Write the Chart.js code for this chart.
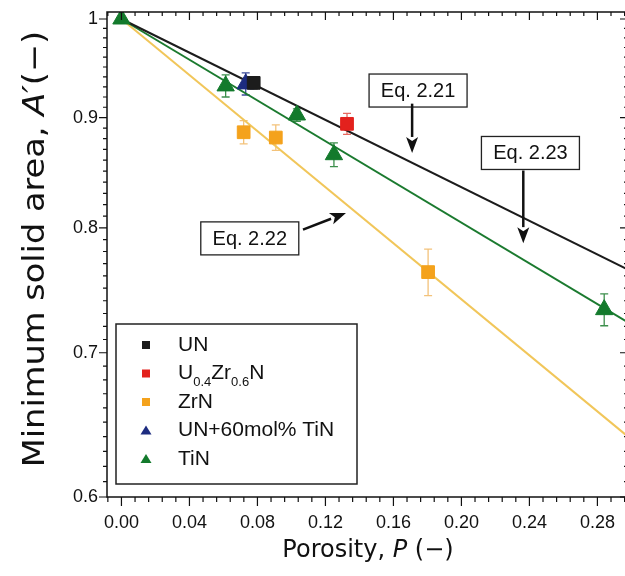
<!DOCTYPE html>
<html>
<head>
<meta charset="utf-8">
<script src="https://cdn.jsdelivr.net/npm/chart.js@4"></script>
<style>
  html, body { margin: 0; padding: 0; background: #fff; overflow: hidden; }
  #wrap { width: 640px; height: 576px; }
</style>
</head>
<body>
<div id="wrap"><canvas id="chart" width="640" height="576"></canvas></div>
<script>
// measured points (porosity P, minimum solid area A', +/- error)
const unP = [0.0778];
const unA = [0.934];
const unErr = [0.006];

const uzrP = [0.1327];
const uzrA = [0.894];
const uzrErr = [0.010];

const zrnP = [0.0719, 0.0908, 0.1804];
const zrnA = [0.886, 0.881, 0.763];
const zrnErr = [0.011, 0.012, 0.019];

const untinP = [0.0731];
const untinA = [0.933];
const untinErr = [0.011];

const tinP = [0.0, 0.0613, 0.1032, 0.125, 0.284];
const tinA = [1.0, 0.931, 0.9025, 0.865, 0.733];
const tinErr = [0, 0.011, 0.006, 0.011, 0.0125];

// model curves, end points
const eqP = [0.0, 0.298];
const eq221A = [1.0, 0.765];
const eq222A = [1.0, 0.640];
const eq223A = [1.0, 0.723];

// axes
const X_MIN = -0.0085, X_MAX = 0.298;
const Y_MIN = 0.6, Y_MAX = 1.0075;
const xTicks = [0.00, 0.04, 0.08, 0.12, 0.16, 0.20, 0.24, 0.28];
const yTicks = [0.6, 0.7, 0.8, 0.9, 1.0];
const yTickLabels = ["0.6", "0.7", "0.8", "0.9", "1"];

// annotation boxes: box centre and arrow in data units
const notes = [
  { text: "Eq. 2.21", bx: 0.1745, by: 0.9264, from: [0.171, 0.9135], to: [0.171, 0.8666] },
  { text: "Eq. 2.23", bx: 0.2406, by: 0.8666, from: [0.2364, 0.8505], to: [0.2364, 0.787] },
  { text: "Eq. 2.22", bx: 0.0755, by: 0.791, from: [0.1068, 0.7985], to: [0.1321, 0.8128] }
];

const C_BLACK = "#1c1c1c", C_RED = "#e3211d", C_ORANGE = "#f4a21c",
      C_NAVY = "#1d2c80", C_GREEN = "#137a2c", C_YELLOW = "#f1c65a";

const pts = (xs, ys) => xs.map((x, i) => ({ x, y: ys[i] }));

function marker(label, xs, ys, errs, color, style, r, errColor) {
  return {
    label, data: pts(xs, ys), errs, errColor,
    showLine: false, pointStyle: style, pointRadius: r, pointHoverRadius: r,
    backgroundColor: color, borderColor: color, borderWidth: 1
  };
}
function curve(label, ys, color) {
  return {
    label, data: pts(eqP, ys), showLine: true, pointRadius: 0,
    borderColor: color, borderWidth: 2, backgroundColor: color
  };
}

const datasets = [
  marker("UN", unP, unA, unErr, C_BLACK, "rect", 9, "#444"),
  marker("U0.4Zr0.6N", uzrP, uzrA, uzrErr, C_RED, "rect", 9, "#e76a60"),
  marker("ZrN", zrnP, zrnA, zrnErr, C_ORANGE, "rect", 9, "#f3c27a"),
  marker("UN+60mol% TiN", untinP, untinA, untinErr, C_NAVY, "triangle", 10, "#3a4a98"),
  marker("TiN", tinP, tinA, tinErr, C_GREEN, "triangle", 10, "#3d8f4c"),
  curve("Eq. 2.21", eq221A, C_BLACK),
  curve("Eq. 2.23", eq223A, "#1b7a2f"),
  curve("Eq. 2.22", eq222A, C_YELLOW)
];

const legendRows = [
  { parts: [["UN", 0]], color: C_BLACK, style: "rect" },
  { parts: [["U", 0], ["0.4", 1], ["Zr", 0], ["0.6", 1], ["N", 0]], color: C_RED, style: "rect" },
  { parts: [["ZrN", 0]], color: C_ORANGE, style: "rect" },
  { parts: [["UN+60mol% TiN", 0]], color: C_NAVY, style: "triangle" },
  { parts: [["TiN", 0]], color: C_GREEN, style: "triangle" }
];

const FONT = '"Liberation Sans", Arial, sans-serif';
const TFONT = '"DejaVu Sans", sans-serif';

const errorBars = {
  id: "errorBars",
  beforeDatasetsDraw(chart) {
    const { ctx } = chart;
    const ys = chart.scales.y;
    chart.data.datasets.forEach((ds, i) => {
      if (!ds.errs) return;
      const meta = chart.getDatasetMeta(i);
      ctx.save();
      ctx.strokeStyle = ds.errColor;
      ctx.lineWidth = 1.3;
      meta.data.forEach((el, j) => {
        const e = ds.errs[j];
        if (!e) return;
        const v = ds.data[j].y;
        const top = ys.getPixelForValue(v + e);
        const bot = ys.getPixelForValue(v - e);
        ctx.beginPath();
        ctx.moveTo(el.x, top); ctx.lineTo(el.x, bot);
        ctx.moveTo(el.x - 4, top); ctx.lineTo(el.x + 4, top);
        ctx.moveTo(el.x - 4, bot); ctx.lineTo(el.x + 4, bot);
        ctx.stroke();
      });
      ctx.restore();
    });
  }
};

function drawFrame(chart) {
  const { ctx, chartArea: a } = chart;
  const xs = chart.scales.x, ys = chart.scales.y;
  ctx.save();
  ctx.strokeStyle = "#111";
  ctx.lineWidth = 1.5;
  ctx.strokeRect(a.left, a.top, a.right - a.left, a.bottom - a.top);
  ctx.lineWidth = 1.2;
  ctx.beginPath();
  // x ticks: outward at bottom, inward at top
  for (let k = -1; k <= 37; k++) {
    const v = k * 0.008;
    if (v < X_MIN || v > X_MAX) continue;
    const px = xs.getPixelForValue(v);
    const major = k % 5 === 0;
    const len = major ? 9 : 5;
    ctx.moveTo(px, a.bottom); ctx.lineTo(px, a.bottom + len);
    ctx.moveTo(px, a.top); ctx.lineTo(px, a.top + len - 1);
  }
  // y ticks: outward at left, inward at right
  for (let k = 60; k <= 100; k++) {
    const v = k / 100;
    const py = ys.getPixelForValue(v);
    const major = k % 10 === 0;
    const len = major ? 8 : 4;
    ctx.moveTo(a.left, py); ctx.lineTo(a.left - len, py);
    ctx.moveTo(a.right, py); ctx.lineTo(a.right - len, py);
  }
  ctx.stroke();
  ctx.restore();
}

function drawTitles(chart) {
  const { ctx } = chart;
  ctx.save();
  ctx.fillStyle = "#111";
  ctx.textBaseline = "middle";
  // x title
  const xParts = [["Porosity, ", "24px " + TFONT], ["P", "italic 24px " + TFONT], [" (\u2212)", "24px " + TFONT]];
  let w = 0;
  xParts.forEach(p => { ctx.font = p[1]; w += ctx.measureText(p[0]).width; });
  let x = 368 - w / 2;
  xParts.forEach(p => { ctx.font = p[1]; ctx.fillText(p[0], x, 551); x += ctx.measureText(p[0]).width; });
  // y title, slightly stretched along its length like the original lettering
  const yParts = [["Minimum solid area, ", "30px " + TFONT], ["A\u2032", "italic 30px " + TFONT], ["(\u2212)", "30px " + TFONT]];
  ctx.translate(36, 249);
  ctx.rotate(-Math.PI / 2);
  ctx.scale(1.12, 1);
  w = 0;
  yParts.forEach(p => { ctx.font = p[1]; w += ctx.measureText(p[0]).width; });
  x = -w / 2;
  yParts.forEach(p => { ctx.font = p[1]; ctx.fillText(p[0], x, 0); x += ctx.measureText(p[0]).width; });
  ctx.restore();
}

function drawArrow(ctx, x1, y1, x2, y2) {
  const ang = Math.atan2(y2 - y1, x2 - x1);
  const hl = 16, hw = 6;
  const bx = x2 - Math.cos(ang) * hl, by = y2 - Math.sin(ang) * hl;
  ctx.beginPath();
  ctx.moveTo(x1, y1); ctx.lineTo(bx, by);
  ctx.stroke();
  ctx.beginPath();
  ctx.moveTo(x2, y2);
  ctx.lineTo(bx - Math.sin(ang) * hw, by + Math.cos(ang) * hw);
  ctx.lineTo(x2 - Math.cos(ang) * (hl - 4), y2 - Math.sin(ang) * (hl - 4));
  ctx.lineTo(bx + Math.sin(ang) * hw, by - Math.cos(ang) * hw);
  ctx.closePath();
  ctx.fill();
}

function drawNotes(chart) {
  const { ctx } = chart;
  const xs = chart.scales.x, ys = chart.scales.y;
  ctx.save();
  ctx.font = "20px " + FONT;
  ctx.textAlign = "center";
  ctx.textBaseline = "middle";
  notes.forEach(n => {
    const cx = xs.getPixelForValue(n.bx), cy = ys.getPixelForValue(n.by);
    const bw = 98, bh = 33;
    ctx.fillStyle = "#fff";
    ctx.fillRect(cx - bw / 2, cy - bh / 2, bw, bh);
    ctx.strokeStyle = "#222";
    ctx.lineWidth = 1.3;
    ctx.strokeRect(cx - bw / 2, cy - bh / 2, bw, bh);
    ctx.fillStyle = "#111";
    ctx.fillText(n.text, cx, cy + 1);
    ctx.strokeStyle = "#111";
    ctx.lineWidth = 2.5;
    drawArrow(ctx, xs.getPixelForValue(n.from[0]), ys.getPixelForValue(n.from[1]),
              xs.getPixelForValue(n.to[0]), ys.getPixelForValue(n.to[1]));
  });
  ctx.restore();
}

function drawLegend(chart) {
  const { ctx, chartArea: a } = chart;
  const left = a.left + 9, bottom = a.bottom - 13;
  const bw = 241, bh = 160, top = bottom - bh;
  ctx.save();
  ctx.fillStyle = "#fff";
  ctx.fillRect(left, top, bw, bh);
  ctx.strokeStyle = "#222";
  ctx.lineWidth = 1.5;
  ctx.strokeRect(left, top, bw, bh);
  ctx.textBaseline = "middle";
  legendRows.forEach((row, i) => {
    const cy = top + 21 + i * 28.5;
    const mx = left + 30;
    ctx.fillStyle = row.color;
    if (row.style === "rect") {
      ctx.fillRect(mx - 4, cy - 4, 8, 8);
    } else {
      ctx.beginPath();
      ctx.moveTo(mx, cy - 5); ctx.lineTo(mx + 5.5, cy + 4); ctx.lineTo(mx - 5.5, cy + 4);
      ctx.closePath(); ctx.fill();
    }
    ctx.fillStyle = "#111";
    let x = left + 62;
    row.parts.forEach(p => {
      if (p[1]) {
        ctx.font = "13px " + FONT;
        ctx.fillText(p[0], x, cy + 9);
      } else {
        ctx.font = "21px " + FONT;
        ctx.fillText(p[0], x, cy);
      }
      x += ctx.measureText(p[0]).width;
    });
  });
  ctx.restore();
}

const decor = {
  id: "decor",
  afterDraw(chart) {
    drawFrame(chart);
    drawNotes(chart);
    drawLegend(chart);
    drawTitles(chart);
  }
};

new Chart(document.getElementById("chart"), {
  type: "scatter",
  data: { datasets },
  options: {
    responsive: false,
    animation: false,
    layout: { padding: { left: 0, top: 12, right: 12, bottom: 0 } },
    plugins: { legend: { display: false }, tooltip: { enabled: false } },
    scales: {
      x: {
        type: "linear", min: X_MIN, max: X_MAX,
        grid: { display: false, drawTicks: false },
        border: { display: false },
        afterBuildTicks: s => { s.ticks = xTicks.map(v => ({ value: v })); },
        afterFit: s => { s.height = 79; s.paddingLeft = 0; s.paddingRight = 0; },
        ticks: {
          padding: 15, color: "#111", maxRotation: 0,
          font: { family: FONT, size: 18 },
          callback: v => v.toFixed(2)
        }
      },
      y: {
        type: "logarithmic", min: Y_MIN, max: Y_MAX,
        grid: { display: false, drawTicks: false },
        border: { display: false },
        afterBuildTicks: s => { s.ticks = yTicks.map(v => ({ value: v })); },
        afterFit: s => { s.width = 107; s.paddingTop = 0; s.paddingBottom = 0; },
        ticks: {
          padding: 9, color: "#111",
          font: { family: FONT, size: 18 },
          callback: v => yTickLabels[yTicks.indexOf(v)] ?? ""
        }
      }
    }
  },
  plugins: [errorBars, decor]
});
</script>
</body>
</html>
